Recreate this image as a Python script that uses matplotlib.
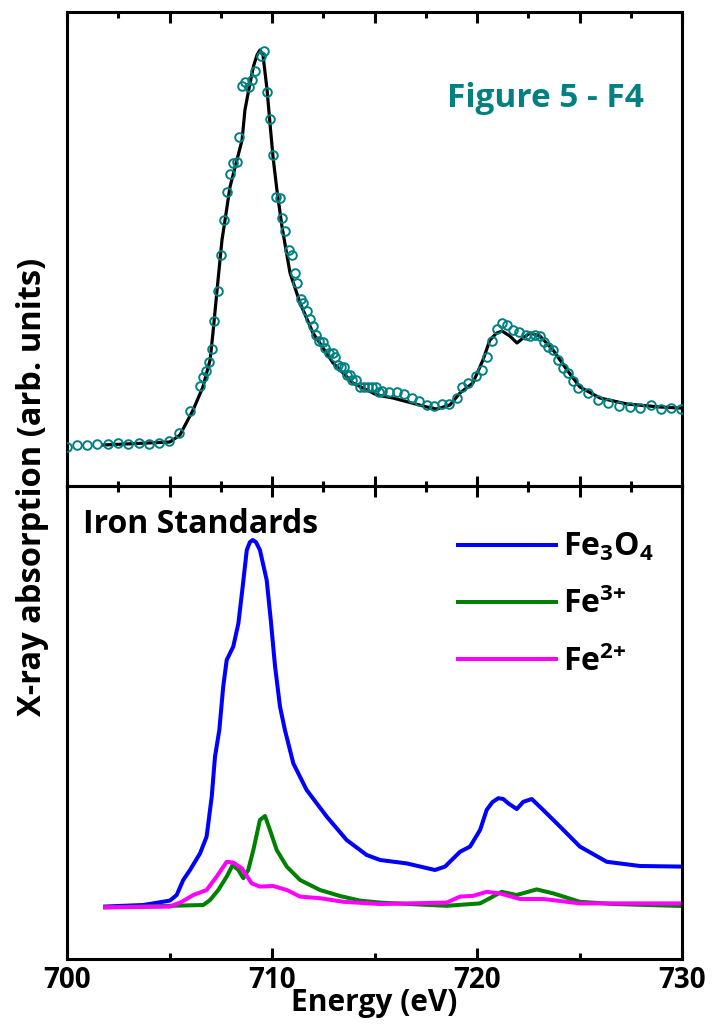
import matplotlib
matplotlib.use("Agg")
import matplotlib.pyplot as plt
from matplotlib.ticker import MultipleLocator, NullLocator

# ---------------- data ----------------
# Top panel: Figure 5 - F4 sample, fit (black line) and measured (teal circles)
fit_E = [701.76, 705.02, 705.51, 706.15, 706.63, 706.98, 707.12, 707.32, 707.56, 707.71,
         707.95, 708.29, 708.54, 708.68, 708.93, 709.10, 709.27, 709.41, 709.56, 709.76, 709.90,
         710.05, 710.24, 710.49, 710.88, 711.37, 712.00, 712.98, 713.95, 715.12, 715.90,
         717.56, 718.05, 718.68, 719.17, 719.80, 720.29, 720.63, 720.95, 721.22, 721.60, 721.95,
         722.30, 722.59, 723.07, 723.71, 724.39, 725.02, 726.00, 727.32, 728.93, 729.90]
fit_I = [0.0025, 0.010, 0.0275, 0.090, 0.1475, 0.215, 0.2825, 0.39, 0.515, 0.565,
         0.6475, 0.715, 0.765, 0.84, 0.9075, 0.950, 0.9775, 0.99, 0.9775, 0.89, 0.8075,
         0.7225, 0.64, 0.5475, 0.4325, 0.3575, 0.2825, 0.2075, 0.1575, 0.1275, 0.12,
         0.0975, 0.0925, 0.1025, 0.1325, 0.1575, 0.215, 0.265, 0.282, 0.2875, 0.275, 0.2575,
         0.272, 0.2825, 0.275, 0.24, 0.19, 0.1475, 0.12, 0.105, 0.0975, 0.095]

meas_E = [700.00, 700.47, 700.99, 701.48, 701.99, 702.50, 702.99, 703.51, 704.00, 704.49,
          704.98, 705.46, 706.00, 706.49, 706.62, 706.78, 706.94, 707.06, 707.19, 707.38,
          707.53, 707.67, 707.82, 707.95, 708.11, 708.31, 708.40, 708.52, 708.68, 708.88,
          709.04, 709.17, 709.45, 709.62, 709.77, 709.90, 710.06, 710.20, 710.39, 710.50,
          710.65, 710.81, 710.96, 711.12, 711.23, 711.40, 711.53, 711.69, 711.85, 712.01,
          712.15, 712.31, 712.47, 712.59, 712.80, 712.96, 713.07, 713.20, 713.37, 713.51,
          713.64, 713.80, 713.92, 714.10, 714.29, 714.49, 714.70, 714.89, 715.07, 715.23,
          715.35, 715.72, 716.08, 716.44, 716.81, 717.19, 717.55, 717.90, 718.28, 718.63,
          719.01, 719.25, 719.58, 719.95, 720.23, 720.47, 720.72, 720.96, 721.20, 721.48,
          721.77, 722.06, 722.38, 722.59, 722.83, 723.07, 723.28, 723.48, 723.72, 723.97,
          724.21, 724.45, 724.70, 724.94, 725.43, 725.92, 726.40, 726.94, 727.46, 727.95,
          728.47, 728.98, 729.46, 729.94]
meas_I = [-0.002, 0.0025, 0.0025, 0.005, 0.005, 0.007, 0.005, 0.007, 0.005, 0.007,
          0.0125, 0.032, 0.0875, 0.15, 0.173, 0.188, 0.211, 0.242, 0.3125, 0.388,
          0.4775, 0.565, 0.636, 0.679, 0.707, 0.711, 0.772, 0.90, 0.911, 0.897,
          0.915, 0.9375, 0.975, 0.988, 0.886, 0.8175, 0.7275, 0.623, 0.621, 0.569,
          0.538, 0.49, 0.4775, 0.432, 0.407, 0.367, 0.357, 0.338, 0.317, 0.301,
          0.2775, 0.263, 0.261, 0.244, 0.232, 0.232, 0.222, 0.2025, 0.197, 0.197,
          0.1775, 0.1775, 0.165, 0.165, 0.148, 0.148, 0.148, 0.148, 0.148, 0.136,
          0.1375, 0.134, 0.136, 0.13, 0.121, 0.1125, 0.1025, 0.101, 0.104, 0.104,
          0.121, 0.148, 0.157, 0.175, 0.19, 0.223, 0.263, 0.292, 0.307, 0.3025,
          0.29, 0.286, 0.2775, 0.275, 0.2775, 0.276, 0.261, 0.248, 0.24, 0.215,
          0.194, 0.182, 0.1625, 0.144, 0.132, 0.115, 0.107, 0.101, 0.098, 0.096,
          0.1025, 0.092, 0.096, 0.092]

# Bottom panel: iron standards
fe3o4_E = [701.77, 703.72, 705.02, 705.35, 705.67, 706.00, 706.49, 706.81, 707.06, 707.22,
           707.43, 707.62, 707.79, 708.11, 708.36, 708.57, 708.77, 708.92, 709.06, 709.22,
           709.41, 709.74, 709.94, 710.15, 710.39, 710.63, 711.04, 711.69, 712.67, 713.64,
           714.62, 715.27, 716.57, 717.95, 718.44, 719.17, 719.66, 720.15, 720.47, 720.75,
           721.04, 721.28, 721.53, 721.94, 722.26, 722.67, 723.23, 724.05, 725.02, 726.33,
           727.95, 729.99]
fe3o4_I = [0.001, 0.005, 0.016, 0.03, 0.0675, 0.0925, 0.134, 0.176, 0.276, 0.376,
           0.4425, 0.551, 0.6175, 0.651, 0.709, 0.801, 0.8925, 0.912, 0.9175, 0.912,
           0.8925, 0.8175, 0.7175, 0.601, 0.501, 0.4425, 0.359, 0.2925, 0.226, 0.1675,
           0.13, 0.1175, 0.109, 0.0925, 0.101, 0.138, 0.151, 0.1925, 0.2425, 0.262,
           0.272, 0.27, 0.259, 0.245, 0.263, 0.27, 0.2425, 0.201, 0.151, 0.113,
           0.1025, 0.101]

fe3_E = [701.77, 706.65, 706.98, 707.38, 707.79, 708.08, 708.36, 708.60, 708.84, 709.09,
         709.41, 709.66, 709.90, 710.23, 710.72, 711.37, 712.34, 713.32, 714.29, 715.27,
         718.52, 720.15, 720.63, 721.20, 721.94, 722.91, 723.72, 725.02, 726.65, 729.99]
fe3_I = [-0.001, 0.005, 0.0175, 0.0425, 0.076, 0.105, 0.0925, 0.072, 0.0925, 0.1425,
         0.2175, 0.2275, 0.1925, 0.1425, 0.101, 0.0675, 0.0425, 0.0275, 0.016, 0.011,
         0.003, 0.009, 0.022, 0.038, 0.03, 0.044, 0.034, 0.013, 0.0075, 0.0025]

fe2_E = [701.77, 705.02, 705.60, 706.16, 706.81, 707.30, 707.79, 708.11, 708.52, 709.01,
         709.41, 710.06, 710.72, 711.37, 712.34, 713.48, 715.27, 718.52, 719.17, 719.82,
         720.47, 721.12, 722.10, 723.23, 725.02, 729.99]
fe2_I = [-0.001, 0.001, 0.013, 0.03, 0.0425, 0.076, 0.113, 0.111, 0.097, 0.059,
         0.051, 0.0525, 0.0425, 0.026, 0.022, 0.013, 0.0075, 0.011, 0.026, 0.028,
         0.038, 0.034, 0.02, 0.02, 0.009, 0.009]

labels = [r'Fe$_3$O$_4$', r'Fe$^{3{+}}$', r'Fe$^{2{+}}$']
colors = ['#0000ff', '#008000', '#ff00ff']
x_ticks = [700, 710, 720, 730]

# ---------------- style ----------------
FONT = 'Open Sans'
plt.rcParams['font.family'] = [FONT, 'DejaVu Sans']
plt.rcParams['font.weight'] = 'bold'
plt.rcParams['mathtext.fontset'] = 'custom'
plt.rcParams['mathtext.rm'] = FONT + ':bold'
plt.rcParams['mathtext.it'] = FONT + ':bold'
plt.rcParams['mathtext.bf'] = FONT + ':bold'
plt.rcParams['mathtext.default'] = 'rm'

SPW = 2.2
fig = plt.figure(figsize=(7.12, 10.33), dpi=100)
W, H = 712.0, 1033.0
left, width = 67 / W, (682 - 67) / W
ax1 = fig.add_axes([left, 1 - 487 / H, width, (487 - 12) / H])
ax2 = fig.add_axes([left, 1 - 959 / H, width, (959 - 486) / H])

for ax in (ax1, ax2):
    for s in ax.spines.values():
        s.set_linewidth(SPW)
    ax.set_xlim(700, 730)
    ax.yaxis.set_major_locator(NullLocator())
    ax.yaxis.set_minor_locator(NullLocator())

# top panel
ax1.plot(fit_E, fit_I, color='black', lw=2.3, zorder=2, solid_joinstyle='round')
ax1.plot(meas_E, meas_I, linestyle='none', marker='o', ms=6.2, mfc='none',
         mec='#008080', mew=1.4, zorder=3)
ax1.set_ylim(-0.1025, 1.085)
ax1.xaxis.set_major_locator(MultipleLocator(5))
ax1.xaxis.set_minor_locator(MultipleLocator(2.5))
ax1.tick_params(axis='x', which='both', direction='in', top=True, bottom=True,
                labelbottom=False, width=SPW)
ax1.tick_params(axis='x', which='major', length=8)
ax1.tick_params(axis='x', which='minor', length=4)
fig.text(447 / W, 1 - 107 / H, 'Figure 5 - F4', fontsize=24,
         color='#008080', fontweight='bold', va='baseline', ha='left')

# bottom panel
series = [(fe3o4_E, fe3o4_I), (fe3_E, fe3_I), (fe2_E, fe2_I)]
handles = []
for (E, I), c, lab in zip(series, colors, labels):
    h, = ax2.plot(E, I, color=c, lw=2.9, label=lab, solid_capstyle='butt',
                  solid_joinstyle='round')
    handles.append(h)
ax2.set_ylim(-0.13, 1.0525)
ax2.set_xticks(x_ticks)
ax2.xaxis.set_minor_locator(MultipleLocator(5))
ax2.tick_params(axis='x', which='both', direction='in', top=False, bottom=True,
                width=SPW, labelsize=20, pad=5)
ax2.tick_params(axis='x', which='major', length=8)
ax2.tick_params(axis='x', which='minor', length=4)
for t in ax2.get_xticklabels():
    t.set_fontweight('bold')
sec = ax2.secondary_xaxis('top')
sec.xaxis.set_major_locator(MultipleLocator(5))
sec.xaxis.set_minor_locator(MultipleLocator(2.5))
sec.tick_params(axis='x', which='both', direction='in', labeltop=False, width=SPW)
sec.tick_params(axis='x', which='major', length=8)
sec.tick_params(axis='x', which='minor', length=4)
sec.spines['top'].set_linewidth(SPW)

fig.text(83 / W, 1 - 533 / H, 'Iron Standards', fontsize=23,
         fontweight='bold', va='baseline', ha='left')
leg = ax2.legend(handles=handles, loc='upper right', bbox_to_anchor=(0.99, 0.952),
                 frameon=False, fontsize=23, handlelength=3.2, handletextpad=0.15,
                 labelspacing=0.76, borderaxespad=0.3)
for t in leg.get_texts():
    t.set_fontweight('bold')

fig.text(374 / W, 1 - 1003 / H, 'Energy (eV)', fontsize=21.5, fontweight='bold',
         ha='center', va='center')
fig.text(33 / W, 1 - 487 / H, 'X-ray absorption (arb. units)', fontsize=23.5,
         fontweight='bold', ha='center', va='center', rotation=90)

fig.savefig('out.png', dpi=100)
